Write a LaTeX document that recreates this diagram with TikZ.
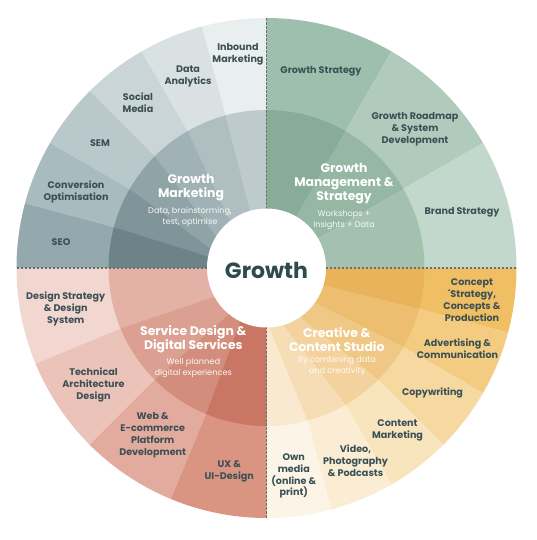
\documentclass[tikz,border=0pt]{standalone}
\usepackage{fontspec}
\setmainfont{Poppins}
\definecolor{labc}{HTML}{3B5055}
\definecolor{ctrc}{HTML}{2F4A4F}
\definecolor{dashc}{HTML}{66706F}
% top-left outer / inner
\definecolor{gmoA}{HTML}{E9EEEE}\definecolor{gmoB}{HTML}{D9E1E2}\definecolor{gmoC}{HTML}{C9D5D6}
\definecolor{gmoD}{HTML}{B9C9CB}\definecolor{gmoE}{HTML}{A8BBBE}\definecolor{gmoF}{HTML}{94A9AD}
\definecolor{gmiA}{HTML}{BECBCC}\definecolor{gmiB}{HTML}{AFBFC1}\definecolor{gmiC}{HTML}{A0B2B5}
\definecolor{gmiD}{HTML}{90A4A7}\definecolor{gmiE}{HTML}{7F9599}\definecolor{gmiF}{HTML}{6C8388}
% top-right
\definecolor{gsoA}{HTML}{9FBFAE}\definecolor{gsoB}{HTML}{B0CBBC}\definecolor{gsoC}{HTML}{C3D8CC}
\definecolor{gsiA}{HTML}{87AD99}\definecolor{gsiB}{HTML}{95B7A4}\definecolor{gsiC}{HTML}{A4C1B0}
% bottom-left
\definecolor{sdoA}{HTML}{F2D7D1}\definecolor{sdoB}{HTML}{ECC3B9}\definecolor{sdoC}{HTML}{E3AB9D}\definecolor{sdoD}{HTML}{DA9482}
\definecolor{sdiA}{HTML}{E3B1A5}\definecolor{sdiB}{HTML}{DBA092}\definecolor{sdiC}{HTML}{D38D7D}\definecolor{sdiD}{HTML}{C97665}
% bottom-right
\definecolor{csoA}{HTML}{F0BF63}\definecolor{csoB}{HTML}{F3CB81}\definecolor{csoC}{HTML}{F6D8A1}
\definecolor{csoD}{HTML}{F8E4BD}\definecolor{csoE}{HTML}{FAEDD3}\definecolor{csoF}{HTML}{FCF5E7}
\definecolor{csiA}{HTML}{E9B35C}\definecolor{csiB}{HTML}{EDBD70}\definecolor{csiC}{HTML}{F0C886}
\definecolor{csiD}{HTML}{F3D29D}\definecolor{csiE}{HTML}{F6DDB5}\definecolor{csiF}{HTML}{F9E9CF}
\tikzset{
  lab/.style={font=\fontsize{9.6}{11.9}\selectfont\bfseries, text=labc, align=center, inner sep=0pt},
  ttl/.style={font=\fontsize{12.4}{13.9}\selectfont\bfseries, text=white, align=center, inner sep=0pt},
  sub/.style={font=\fontsize{8.2}{10.6}\selectfont, text=white, align=center, inner sep=0pt, opacity=0.92},
  axisline/.style={draw=dashc, line width=1.1pt, dash pattern=on 2.5pt off 1.5pt}
}
\begin{document}
\begin{tikzpicture}[x=1pt,y=1pt]
\useasboundingbox (-266.5,-272) rectangle (269.5,268);
% outer wedges
\foreach \a/\b/\c in {90/105/gmoA,105/120/gmoB,120/135/gmoC,135/150/gmoD,150/165/gmoE,165/180/gmoF,
  60/90/gsoA,30/60/gsoB,0/30/gsoC,
  180/202.5/sdoA,202.5/225/sdoB,225/247.5/sdoC,247.5/270/sdoD,
  -15/0/csoA,-30/-15/csoB,-45/-30/csoC,-60/-45/csoD,-75/-60/csoE,-90/-75/csoF}{
  \fill[\c] (0,0) -- (\a:250) arc[start angle=\a, end angle=\b, radius=250] -- cycle;
}
% inner ring wedges: outer angles a1,a2 ; inner angles b1,b2
\foreach \a/\b/\p/\q/\c in {90/105/90/106/gmiA,105/120/106/128/gmiB,120/135/128/148/gmiC,
  135/150/148/161/gmiD,150/165/161/169/gmiE,165/180/169/180/gmiF,
  60/90/60/90/gsiA,30/60/30/60/gsiB,0/30/0/30/gsiC,
  180/202.5/180/209/sdiA,202.5/225/209/231/sdiB,225/247.5/231/244/sdiC,247.5/270/244/270/sdiD,
  -15/0/-17/0/csiA,-30/-15/-36/-17/csiB,-45/-30/-56/-36/csiC,-60/-45/-74/-56/csiD,
  -75/-60/-88/-74/csiE,-90/-75/-90/-88/csiF}{
  \fill[\c] (\a:158) arc[start angle=\a, end angle=\b, radius=158] -- (\q:59) -- (\p:59) -- cycle;
}
% axis dashed lines
\coordinate (nA) at (90:59);  \coordinate (nB) at (90:250);
\coordinate (sA) at (-90:59); \coordinate (sB) at (-90:250);
\coordinate (wA) at (180:59); \coordinate (wB) at (180:250);
\coordinate (eA) at (0:59);   \coordinate (eB) at (0:250);
\draw[axisline] (nA) -- (nB);
\draw[axisline] (sA) -- (sB);
\draw[axisline] (wA) -- (wB);
\draw[axisline] (eA) -- (eB);
% centre
\fill[white] (0,0) circle[radius=59.5];
\node[font=\fontsize{22}{24}\selectfont\bfseries, text=ctrc, inner sep=0pt] (center) at (0,-2) {Growth};
% top-left labels
\node[lab] (inb) at (-28.5,214) {Inbound\\Marketing};
\node[lab] (dat) at (-78.5,192) {Data\\Analytics};
\node[lab] (soc) at (-128.5,165) {Social\\Media};
\node[lab] (sem) at (-166.5,125) {SEM};
\node[lab] (con) at (-190.5,76) {Conversion\\Optimisation};
\node[lab] (seo) at (-205.5,26) {SEO};
\node[ttl] (gmt) at (-75.5,80) {Growth\\Marketing};
\node[sub] (gms) at (-76.5,51) {Data, brainstorming,\\test, optimise};
% top-right labels
\node[lab] (gst) at (54.5,197) {Growth Strategy};
\node[lab] (grm) at (148.5,139) {Growth Roadmap\\\& System\\Development};
\node[lab] (brs) at (195.5,56) {Brand Strategy};
\node[ttl] (gmst) at (77.5,84) {Growth\\Management \&\\Strategy};
\node[sub] (gmss) at (77.5,48) {Workshops +\\Insights + Data};
% bottom-left labels
\node[lab] (dss) at (-200.8,-41) {Design Strategy\\\& Design\\System};
\node[lab] (tad) at (-173,-117) {Technical\\Architecture\\Design};
\node[lab] (web) at (-113.8,-167) {Web \&\\E-commerce\\Platform\\Development};
\node[lab] (uxd) at (-37.2,-203) {UX \&\\UI-Design};
\node[ttl] (sdt) at (-73.2,-71) {Service Design \&\\Digital Services};
\node[sub] (sds) at (-73.2,-100) {Well planned\\digital experiences};
% bottom-right labels
\node[lab] (cpt) at (205.5,-32) {Concept\\´Strategy,\\Concepts \&\\Production};
\node[lab] (adv) at (191,-81) {Advertising \&\\Communication};
\node[lab] (cpw) at (166,-125) {Copywriting};
\node[lab] (cmk) at (131,-162) {Content\\Marketing};
\node[lab] (vid) at (89,-193) {Video,\\Photography\\\& Podcasts};
\node[lab] (own) at (27.3,-208) {Own\\media\\(online \&\\print)};
\node[ttl] (cct) at (70.3,-72) {Creative \&\\Content Studio};
\node[sub] (ccs) at (70.5,-98) {By combining data\\and creativity};
\end{tikzpicture}
\end{document}
